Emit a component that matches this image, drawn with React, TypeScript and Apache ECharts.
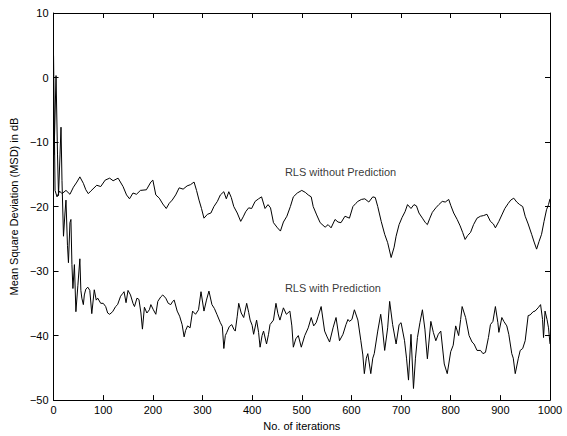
import React, { useEffect, useRef } from "react";
import * as echarts from "echarts";

const xTicks = [0, 100, 200, 300, 400, 500, 600, 700, 800, 900, 1000];
const yTicks = [-50, -40, -30, -20, -10, 0, 10];

const withoutPrediction: [number, number][] = [
  [0, 3.4], [3, -17.5], [7, -18.5], [12, -17.6], [17, -18.0], [25, -17.5], [33, -18.1], [40, -17], [47, -16.2],
  [53, -15.4], [60, -16.4], [65, -17.4], [70, -18], [75, -17.6], [87, -16.7], [95, -16.9], [104, -15.9], [113, -15.6],
  [120, -16], [130, -15.6], [140, -16.9], [147, -18.2], [153, -18.8], [160, -17.9], [167, -18.1], [175, -17.5],
  [187, -17.4], [196, -16.2], [200, -15.9], [206, -18.2], [213, -18.7], [220, -19.6], [227, -20.3], [233, -19.5],
  [239, -19], [246, -18.2], [253, -17.1], [261, -17.3], [269, -16.8], [276, -16.6], [283, -16.2], [288, -17.5],
  [293, -19], [298, -20.3], [303, -21.8], [310, -21.2], [317, -21], [323, -20], [330, -19.2], [336, -18.2],
  [343, -17.7], [348, -18.8], [353, -17.7], [358, -18.6], [363, -20], [370, -21], [377, -22.3], [382, -21.6],
  [387, -20.8], [393, -20.2], [399, -20.3], [406, -19.2], [413, -18.8], [419, -18.5], [426, -20.3], [432, -19.7],
  [437, -20.2], [443, -22.5], [451, -23.3], [457, -23.8], [463, -22.4], [470, -21.5], [477, -20], [483, -18.5],
  [491, -17.9], [500, -17.5], [507, -17.8], [513, -18.2], [519, -18.5], [523, -20], [530, -21.3], [537, -22.5],
  [547, -23.2], [553, -22.8], [559, -23.3], [567, -22], [573, -22.4], [579, -22.5], [587, -21.5], [596, -21.8],
  [603, -20], [609, -19.5], [613, -19.2], [620, -18.9], [627, -18.8], [635, -19.3], [643, -18.5], [648, -18.6],
  [653, -20], [660, -22.3], [667, -24.3], [673, -25.6], [680, -27.9], [686, -26.3], [690, -24.6], [696, -22.8],
  [702, -21.7], [708, -20.8], [713, -19.7], [720, -20.3], [726, -19.7], [731, -19.9], [736, -21], [743, -21.8],
  [749, -22.5], [753, -22.8], [758, -21.8], [763, -20.9], [770, -20.2], [776, -19.7], [783, -19.2], [789, -19.3],
  [796, -18.9], [800, -19.8], [806, -21], [813, -22], [819, -23], [824, -24], [829, -25.1], [834, -24.5],
  [840, -24], [846, -22.8], [853, -21.8], [860, -21.5], [866, -21.4], [873, -21.2], [880, -22.3], [886, -22.7],
  [890, -23.3], [897, -22.3], [903, -21.3], [909, -20.3], [916, -19.5], [921, -19], [927, -18.7], [933, -19.3],
  [939, -19.7], [945, -20], [950, -21.5], [956, -22.7], [963, -24.3], [968, -25.5], [973, -26.6], [978, -25.4],
  [983, -24.3], [988, -22.3], [993, -20.5], [997, -19.7], [1000, -18.8],
];

const withPrediction: [number, number][] = [
  [1, -12], [5, 0.3], [8, -12], [10, -18.3], [13, -12], [15, -7.7], [17, -16], [20, -24.6], [23, -21], [25, -19],
  [28, -26], [30, -28.7], [33, -22.5], [35, -22], [37, -29], [39, -32.7], [42, -29], [45, -36.3], [49, -32.2],
  [53, -28.1], [55, -33], [57, -34.2], [60, -35.2], [62, -33.7], [65, -32.8], [69, -32.5], [73, -33], [77, -36.6],
  [82, -32.9], [86, -34.5], [89, -34.2], [95, -35], [100, -35], [105, -35.5], [109, -36.5], [113, -36.7],
  [119, -36.3], [125, -35.5], [129, -35.2], [135, -33.9], [139, -33.5], [142, -33.2], [146, -34.9], [150, -33],
  [155, -33.7], [160, -35], [163, -35.5], [168, -34.2], [172, -34.4], [176, -36.5], [179, -39], [183, -35.6],
  [188, -36.5], [193, -36], [196, -35.2], [201, -36], [206, -36.7], [210, -34.7], [216, -34], [220, -33.7],
  [226, -34.2], [231, -35], [236, -35.2], [240, -34.7], [243, -34.5], [249, -36.2], [254, -37], [259, -38.3],
  [263, -40.2], [266, -39.2], [270, -38.5], [275, -38.8], [280, -36.2], [286, -36.7], [292, -36], [297, -33.2],
  [303, -36.2], [308, -34.5], [313, -33.1], [319, -35.2], [324, -35.8], [329, -36.7], [336, -38], [340, -38.6],
  [343, -42], [346, -40], [349, -39.5], [354, -38.6], [359, -38.3], [363, -39], [366, -39.3], [370, -37],
  [373, -35], [378, -36.5], [383, -37.2], [389, -35], [393, -36.4], [396, -37.6], [400, -38.4], [403, -39.8],
  [409, -37.6], [413, -39.5], [416, -41.8], [420, -40], [423, -39.3], [429, -41.3], [433, -39.8], [436, -38.3],
  [443, -37.6], [448, -35], [452, -36.6], [456, -37.6], [463, -35.7], [469, -36.7], [476, -36.2], [480, -38.5],
  [483, -41.8], [488, -40.5], [493, -40], [499, -41.8], [506, -40], [513, -38.8], [519, -37.2], [524, -38.5],
  [529, -38], [533, -37], [539, -35.5], [546, -39.3], [551, -40.2], [556, -41], [563, -38.8], [569, -37.2],
  [576, -40.8], [583, -39.8], [589, -38.3], [593, -37.5], [596, -37.8], [601, -37.5], [606, -36], [613, -37.6],
  [619, -40.8], [623, -43], [626, -45.9], [630, -43.5], [633, -42.8], [639, -45.9], [643, -43.5], [646, -42.8],
  [653, -39.3], [659, -36.7], [662, -38.5], [667, -42.3], [673, -38.8], [677, -34.7], [683, -38.3], [690, -41.3],
  [696, -38.3], [700, -38], [707, -40.8], [711, -43.5], [715, -46.9], [720, -39.8], [725, -48.2], [729, -43.5],
  [733, -40.3], [738, -38], [743, -36], [748, -39], [753, -43.6], [760, -37.8], [765, -39.5], [770, -40.8],
  [775, -39.8], [780, -39.3], [787, -44.4], [793, -45.9], [800, -42.5], [805, -41.5], [810, -38.5], [816, -40],
  [820, -37.5], [823, -35.5], [830, -37.2], [837, -40], [843, -41], [847, -41.3], [853, -42.3], [860, -42.3],
  [865, -42.8], [870, -42.6], [876, -40.3], [880, -38.3], [885, -37.8], [890, -35.5], [895, -38], [897, -39.5],
  [903, -37.2], [907, -37.8], [913, -38.5], [917, -39.8], [923, -42.8], [926, -43.5], [930, -45.9], [936, -43.6],
  [940, -42.3], [945, -42], [950, -40.8], [956, -36.9], [960, -36.8], [966, -36.3], [970, -36.2], [976, -35.7],
  [981, -35.2], [985, -37.5], [987, -40.3], [990, -36.2], [994, -37.5], [997, -38.8], [1000, -41.3],
];

const annotations: { name: string; value: [number, number] }[] = [
  { name: "RLS without Prediction", value: [466, -14.7] },
  { name: "RLS with Prediction", value: [466, -32.6] },
];

const FONT = "'Liberation Sans', Arial, Helvetica, sans-serif";

export default function App() {
  const ref = useRef<HTMLDivElement>(null);
  useEffect(() => {
    if (!ref.current) return;
    const chart = echarts.init(ref.current, undefined, { renderer: "svg" });
    const axisLine = { show: true, onZero: false, lineStyle: { color: "#000", width: 1 } };
    const tick = { show: true, inside: true, length: 5, lineStyle: { color: "#000", width: 1 } };
    const fmtY = (v: number) => String(v).replace("-", "\u2212");
    const fmtX = (v: number) => String(v);
    chart.setOption({
      animation: false,
      backgroundColor: "#fff",
      textStyle: { fontFamily: FONT },
      grid: { left: 50, right: 17, top: 13, bottom: 28, containLabel: false },
      xAxis: [
        {
          type: "value", min: xTicks[0], max: xTicks[xTicks.length - 1], interval: 100,
          position: "bottom",
          axisLine, axisTick: tick, splitLine: { show: false },
          axisLabel: { color: "#000", fontSize: 11, margin: 4, formatter: fmtX, fontFamily: FONT },
          name: "No. of iterations", nameLocation: "middle", nameGap: 15,
          nameTextStyle: { color: "#000", fontSize: 11, fontFamily: FONT },
        },
        {
          type: "value", min: xTicks[0], max: xTicks[xTicks.length - 1], interval: 100,
          position: "top",
          axisLine, axisTick: tick, splitLine: { show: false }, axisLabel: { show: false },
        },
      ],
      yAxis: [
        {
          type: "value", min: yTicks[0], max: yTicks[yTicks.length - 1], interval: 10,
          position: "left",
          axisLine, axisTick: tick, splitLine: { show: false },
          axisLabel: { color: "#000", fontSize: 11, margin: 5, formatter: fmtY, fontFamily: FONT },
          name: "Mean Square Deviation (MSD) in dB", nameLocation: "middle", nameGap: 27,
          nameTextStyle: { color: "#000", fontSize: 11, fontFamily: FONT },
        },
        {
          type: "value", min: yTicks[0], max: yTicks[yTicks.length - 1], interval: 10,
          position: "right",
          axisLine, axisTick: tick, splitLine: { show: false }, axisLabel: { show: false },
        },
      ],
      series: [
        {
          type: "line", name: "RLS without Prediction", data: withoutPrediction,
          showSymbol: false, symbol: "none", lineStyle: { color: "#000", width: 1 },
          xAxisIndex: 0, yAxisIndex: 0, z: 3,
        },
        {
          type: "line", name: "RLS with Prediction", data: withPrediction,
          showSymbol: false, symbol: "none", lineStyle: { color: "#000", width: 1 },
          xAxisIndex: 0, yAxisIndex: 0, z: 3,
        },
        {
          type: "scatter", data: annotations, symbolSize: 0, silent: true,
          xAxisIndex: 0, yAxisIndex: 0,
          label: {
            show: true, position: "right", distance: 0, formatter: (p: any) => p.name,
            color: "#000", fontSize: 11, fontFamily: FONT,
          },
        },
      ],
    });
    return () => chart.dispose();
  }, []);
  return (
    <div
      ref={ref}
      style={{ position: "fixed", left: 0, top: 0, width: 567, height: 436, background: "#fff" }}
    />
  );
}
